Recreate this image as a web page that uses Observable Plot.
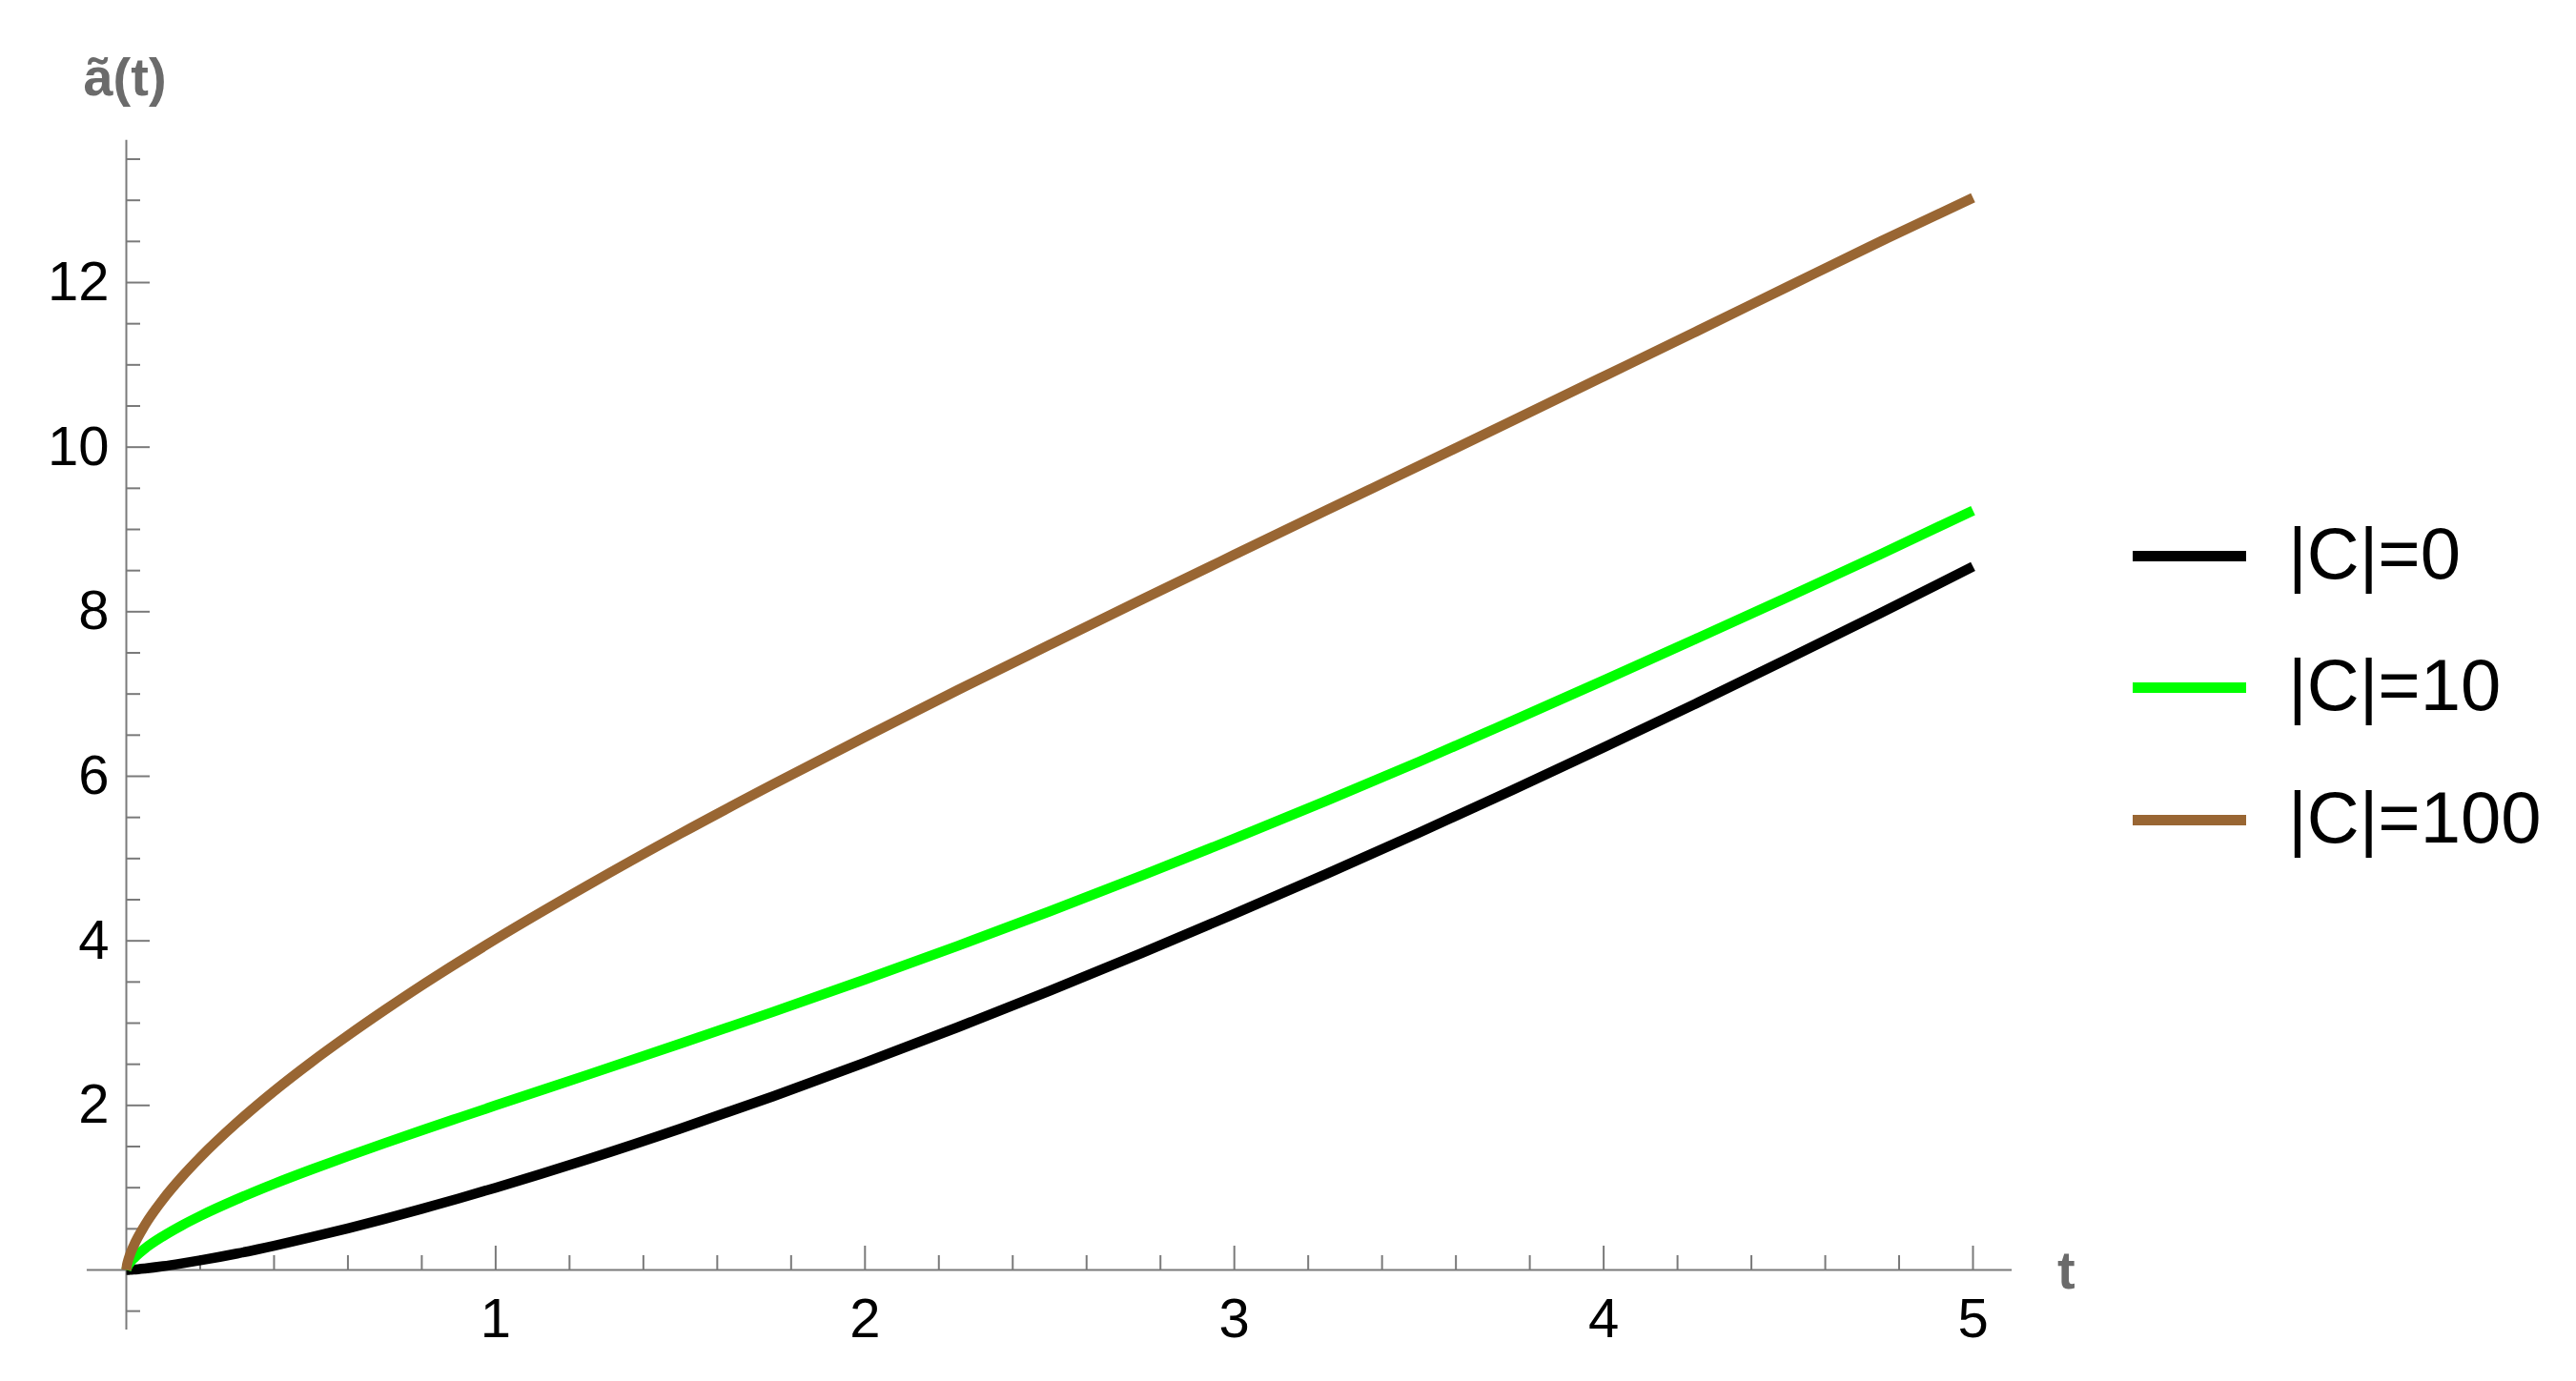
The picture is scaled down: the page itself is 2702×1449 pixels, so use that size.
<!DOCTYPE html>
<html>
<head>
<meta charset="utf-8">
<script src="https://cdn.jsdelivr.net/npm/d3@7"></script>
<script src="https://cdn.jsdelivr.net/npm/@observablehq/plot@0.6"></script>
<style>
  html, body { margin: 0; padding: 0; background: #ffffff; }
  #wrap { position: relative; width: 2702px; height: 1449px; overflow: hidden;
          font-family: "Liberation Sans", Arial, sans-serif; }
  #wrap svg { position: absolute; left: 0; top: 0; }
  .axlabel { position: absolute; font-weight: bold; font-size: 56px; line-height: 1;
             color: #6b6b6b; white-space: nowrap; }
  .legsw { position: absolute; left: 2237px; width: 119px; height: 11px; }
  .legtx { position: absolute; left: 2400px; font-size: 76px; line-height: 1; color: #000; white-space: nowrap; }
</style>
</head>
<body>
<div id="wrap"></div>
<script>
// ---- data ----
const tValues = [0, 0.002, 0.005, 0.01, 0.02, 0.05, 0.1, 0.15, 0.2, 0.3, 0.4, 0.5, 0.6, 0.7, 0.8, 0.9,
                 1, 1.25, 1.5, 1.75, 2, 2.25, 2.5, 2.75, 3, 3.25, 3.5, 3.75, 4, 4.25, 4.5, 4.75, 5];
const seriesC0   = [0, 0.0003, 0.0009, 0.002, 0.005, 0.018, 0.046, 0.08, 0.117, 0.2, 0.295, 0.397, 0.506, 0.621, 0.743, 0.869,
                    1.0, 1.346, 1.717, 2.109, 2.52, 2.948, 3.393, 3.853, 4.327, 4.814, 5.314, 5.826, 6.35, 6.884, 7.43, 7.984, 8.55];
const seriesC10  = [0, 0.030, 0.056, 0.089, 0.141, 0.26, 0.412, 0.541, 0.656, 0.861, 1.047, 1.219, 1.383, 1.542, 1.697, 1.849,
                    2.0, 2.373, 2.75, 3.135, 3.53, 3.937, 4.358, 4.794, 5.242, 5.704, 6.177, 6.668, 7.165, 7.67, 8.18, 8.70, 9.23];
const seriesC100 = [0, 0.064, 0.117, 0.186, 0.295, 0.543, 0.862, 1.129, 1.368, 1.793, 2.174, 2.523, 2.849, 3.160, 3.459, 3.744,
                    4.021, 4.677, 5.302, 5.899, 6.478, 7.045, 7.598, 8.148, 8.692, 9.234, 9.773, 10.315, 10.859, 11.404, 11.954, 12.502, 13.03];
const seriesNames  = ["|C|=0", "|C|=10", "|C|=100"];
const seriesColors = ["#000000", "#00ff00", "#996633"];

const xMajorTicks = [1, 2, 3, 4, 5];
const xMinorTicks = [0.2, 0.4, 0.6, 0.8, 1.2, 1.4, 1.6, 1.8, 2.2, 2.4, 2.6, 2.8, 3.2, 3.4, 3.6, 3.8,
                     4.2, 4.4, 4.6, 4.8];
const yMajorTicks = [2, 4, 6, 8, 10, 12];
const yMinorTicks = [-0.5, 0.5, 1, 1.5, 2.5, 3, 3.5, 4.5, 5, 5.5, 6.5, 7, 7.5, 8.5, 9, 9.5,
                     10.5, 11, 11.5, 12.5, 13, 13.5];
const xAxisExtent = [-0.106, 5.106];
const yAxisExtent = [-0.73, 13.73];
const xLabel = "t";
const yLabel = "ã(t)";

// ---- build table ----
const seriesValues = [seriesC0, seriesC10, seriesC100];
const rows = [];
seriesNames.forEach((name, k) => {
  tValues.forEach((t, i) => rows.push({series: name, t, a: seriesValues[k][i]}));
});

const axisColor = "#7a7a7a";
const font = "Liberation Sans";

const marks = [
  // axes lines
  Plot.ruleY([0], {x1: xAxisExtent[0], x2: xAxisExtent[1], stroke: axisColor, strokeWidth: 2}),
  Plot.ruleX([0], {y1: yAxisExtent[0], y2: yAxisExtent[1], stroke: axisColor, strokeWidth: 2}),
  // x ticks (pointing up)
  Plot.ruleX(xMajorTicks, {x: d => d, y1: 0, y2: 0, insetTop: 0, insetBottom: 25, stroke: axisColor, strokeWidth: 2}),
  Plot.ruleX(xMinorTicks, {x: d => d, y1: 0, y2: 0, insetTop: 0, insetBottom: 15, stroke: axisColor, strokeWidth: 2}),
  // y ticks (pointing right)
  Plot.ruleY(yMajorTicks, {y: d => d, x1: 0, x2: 0, insetLeft: 25, insetRight: 0, stroke: axisColor, strokeWidth: 2}),
  Plot.ruleY(yMinorTicks, {y: d => d, x1: 0, x2: 0, insetLeft: 15, insetRight: 0, stroke: axisColor, strokeWidth: 2}),
  // tick labels
  Plot.text(xMajorTicks, {x: d => d, y: 0, text: d => String(d), dy: 52, fontSize: 58, fill: "#000", fontFamily: font}),
  Plot.text(yMajorTicks, {x: 0, y: d => d, text: d => String(d), dx: -18, textAnchor: "end", fontSize: 58, fill: "#000", fontFamily: font}),
];
seriesNames.forEach((name, k) => {
  marks.push(Plot.line(rows.filter(r => r.series === name), {
    x: "t", y: "a", stroke: seriesColors[k], strokeWidth: 10.5,
    strokeLinecap: "butt", strokeLinejoin: "round", curve: "monotone-x"
  }));
});

const chart = Plot.plot({
  width: 2702,
  height: 1449,
  marginLeft: 132,
  marginRight: 633,
  marginTop: 296,
  marginBottom: 117,
  x: {domain: [0, 5], axis: null},
  y: {domain: [0, 12], axis: null},
  style: {background: "#ffffff", fontFamily: font, overflow: "visible"},
  marks
});

const wrap = document.getElementById("wrap");
wrap.appendChild(chart);

// axis labels
const yl = document.createElement("div");
yl.className = "axlabel";
yl.textContent = yLabel;
yl.style.left = "131px";
yl.style.top = "53px";
yl.style.transform = "translateX(-50%)";
wrap.appendChild(yl);

const xl = document.createElement("div");
xl.className = "axlabel";
xl.textContent = xLabel;
xl.style.left = "2158px";
xl.style.top = "1305px";
wrap.appendChild(xl);

// legend
const legendCenter0 = 583, legendGap = 138.5;
seriesNames.forEach((name, k) => {
  const cy = legendCenter0 + k * legendGap;
  const sw = document.createElement("div");
  sw.className = "legsw";
  sw.style.top = (cy - 5.5) + "px";
  sw.style.background = seriesColors[k];
  wrap.appendChild(sw);
  const tx = document.createElement("div");
  tx.className = "legtx";
  tx.textContent = name;
  tx.style.top = (cy - 40.5) + "px";
  wrap.appendChild(tx);
});
</script>
</body>
</html>
